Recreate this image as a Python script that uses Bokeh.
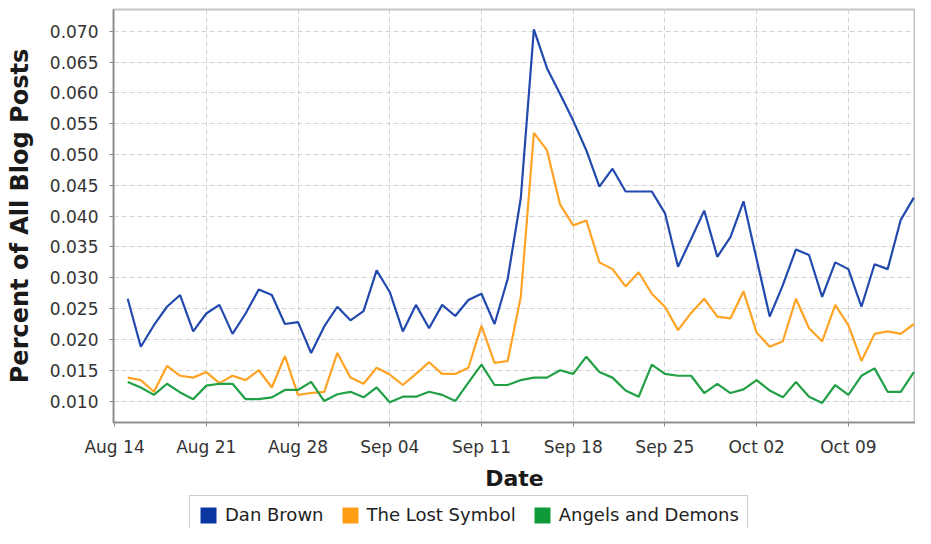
from datetime import datetime
import pandas as pd
from bokeh.plotting import figure
from bokeh.layouts import column
from bokeh.models import (Range1d, FixedTicker, DatetimeTickFormatter, NumeralTickFormatter,
                          Legend, LegendItem, ColumnDataSource)
from bokeh.embed import file_html
from bokeh.resources import INLINE

# ---------------- data ----------------
dates = pd.date_range("2009-08-15", "2009-10-14", freq="D")

dan_brown = [
    0.0266, 0.0188, 0.0223, 0.0253, 0.0272, 0.0213, 0.0242, 0.0256, 0.0209, 0.0242,
    0.0281, 0.0272, 0.0225, 0.0228, 0.0178, 0.0221, 0.0253, 0.0231, 0.0246, 0.0312,
    0.0277, 0.0213, 0.0256, 0.0218, 0.0256, 0.0238, 0.0264, 0.0274, 0.0225, 0.0298,
    0.0429, 0.0703, 0.0640, 0.0598, 0.0555, 0.0507, 0.0448, 0.0477, 0.0440, 0.0440,
    0.0440, 0.0405, 0.0318, 0.0363, 0.0409, 0.0334, 0.0366, 0.0424, 0.0330, 0.0237,
    0.0288, 0.0346, 0.0337, 0.0269, 0.0325, 0.0314, 0.0253, 0.0322, 0.0314, 0.0394,
    0.0430,
]
lost_symbol = [
    0.0138, 0.0134, 0.0115, 0.0157, 0.0141, 0.0138, 0.0147, 0.0129, 0.0141, 0.0134,
    0.0150, 0.0122, 0.0173, 0.0110, 0.0113, 0.0115, 0.0178, 0.0138, 0.0128, 0.0154,
    0.0143, 0.0126, 0.0144, 0.0163, 0.0144, 0.0144, 0.0154, 0.0222, 0.0162, 0.0165,
    0.0269, 0.0535, 0.0507, 0.0419, 0.0385, 0.0393, 0.0325, 0.0314, 0.0286, 0.0309,
    0.0274, 0.0253, 0.0215, 0.0243, 0.0266, 0.0237, 0.0234, 0.0278, 0.0211, 0.0188,
    0.0197, 0.0266, 0.0218, 0.0197, 0.0256, 0.0223, 0.0165, 0.0209, 0.0213, 0.0209,
    0.0225,
]
angels_demons = [
    0.0131, 0.0122, 0.0110, 0.0128, 0.0114, 0.0103, 0.0125, 0.0128, 0.0128, 0.0103,
    0.0103, 0.0106, 0.0118, 0.0118, 0.0131, 0.0100, 0.0111, 0.0115, 0.0106, 0.0122,
    0.0098, 0.0107, 0.0107, 0.0115, 0.0110, 0.0100, 0.0130, 0.0159, 0.0126, 0.0126,
    0.0134, 0.0138, 0.0138, 0.0150, 0.0144, 0.0172, 0.0147, 0.0138, 0.0117, 0.0107,
    0.0159, 0.0144, 0.0141, 0.0141, 0.0113, 0.0128, 0.0113, 0.0119, 0.0134, 0.0117,
    0.0106, 0.0131, 0.0107, 0.0097, 0.0126, 0.0110, 0.0141, 0.0153, 0.0115, 0.0115,
    0.0147,
]
series_names = ["Dan Brown", "The Lost Symbol", "Angels and Demons"]
line_colors = ["#2249ae", "#ffa325", "#22a046"]
swatch_colors = ["#0a36a2", "#ff9d14", "#0e9a3a"]

x_tick_dates = ["2009-08-14", "2009-08-21", "2009-08-28", "2009-09-04", "2009-09-11",
                "2009-09-18", "2009-09-25", "2009-10-02", "2009-10-09"]
y_ticks = [0.010, 0.015, 0.020, 0.025, 0.030, 0.035, 0.040, 0.045, 0.050,
           0.055, 0.060, 0.065, 0.070]

FONT = "DejaVu Sans"

# ---------------- main figure ----------------
p = figure(width=915, height=493, x_axis_type="datetime",
           output_backend="svg", toolbar_location=None,
           x_range=Range1d(datetime(2009, 8, 13, 22), datetime(2009, 10, 14, 3)),
           y_range=Range1d(0.006518, 0.073527),
           min_border_left=113, min_border_right=0, min_border_top=9, min_border_bottom=66)

p.outline_line_color = "#c4c4c4"
p.outline_line_width = 2
p.background_fill_color = "white"
p.border_fill_color = "white"

src = ColumnDataSource(data=dict(date=dates, a=dan_brown, b=lost_symbol, c=angels_demons))
for col, color in zip(["a", "b", "c"], line_colors):
    p.line(x="date", y=col, source=src, line_color=color, line_width=2.2)

for g in (p.xgrid, p.ygrid):
    g.grid_line_color = "#d2d2d2"
    g.grid_line_dash = "5 3"
    g.grid_line_width = 1

xa = p.xaxis[0]
xa.ticker = FixedTicker(ticks=[pd.Timestamp(d).timestamp() * 1000 for d in x_tick_dates])
xa.formatter = DatetimeTickFormatter(days="%b %d", months="%b %d", hours="%b %d",
                                     years="%b %d", milliseconds="%b %d", seconds="%b %d",
                                     minsec="%b %d", minutes="%b %d", hourmin="%b %d")
xa.axis_label = "Date"
ya = p.yaxis[0]
ya.ticker = FixedTicker(ticks=y_ticks)
ya.formatter = NumeralTickFormatter(format="0.000")
ya.axis_label = "Percent of All Blog Posts"

for ax in (xa, ya):
    ax.axis_line_color = "#8a8a8a"
    ax.axis_line_width = 1.5
    ax.major_tick_line_color = "#8a8a8a"
    ax.major_tick_out = 4
    ax.major_tick_in = 0
    ax.minor_tick_line_color = None
    ax.major_label_text_font = FONT
    ax.major_label_text_font_size = "17px"
    ax.major_label_text_color = "#333333"
    ax.axis_label_text_font = FONT
    ax.axis_label_text_font_style = "bold"
    ax.axis_label_text_color = "#1a1a1a"
xa.major_label_standoff = 10
xa.axis_label_standoff = 6
xa.axis_label_text_font_size = "22px"
ya.major_label_standoff = 11
ya.axis_label_standoff = 13
ya.axis_label_text_font_size = "24px"

# ---------------- legend strip ----------------
lg = figure(width=915, height=35, output_backend="svg", toolbar_location=None,
            x_range=Range1d(0, 1), y_range=Range1d(0, 1),
            x_axis_location=None, y_axis_location=None, min_border=0)
lg.outline_line_color = None
lg.xgrid.visible = False
lg.ygrid.visible = False

items = []
for name, color in zip(series_names, swatch_colors):
    r = lg.quad(left=[0], right=[0], top=[0], bottom=[0], fill_color=color, line_color=None)
    items.append(LegendItem(label=name, renderers=[r]))

legend = Legend(items=items, orientation="horizontal", location=(76, -6),
                label_text_font=FONT, label_text_font_size="18px",
                label_text_color="#222222", label_height=20,
                glyph_width=20, glyph_height=20, label_standoff=7, spacing=16,
                padding=8, margin=0,
                border_line_color="#9a9a9a", border_line_width=1.5,
                background_fill_color="white", background_fill_alpha=1.0)
lg.add_layout(legend, "center")

layout = column(p, lg, spacing=0)
open("out.html", "w").write(file_html(layout, INLINE))
